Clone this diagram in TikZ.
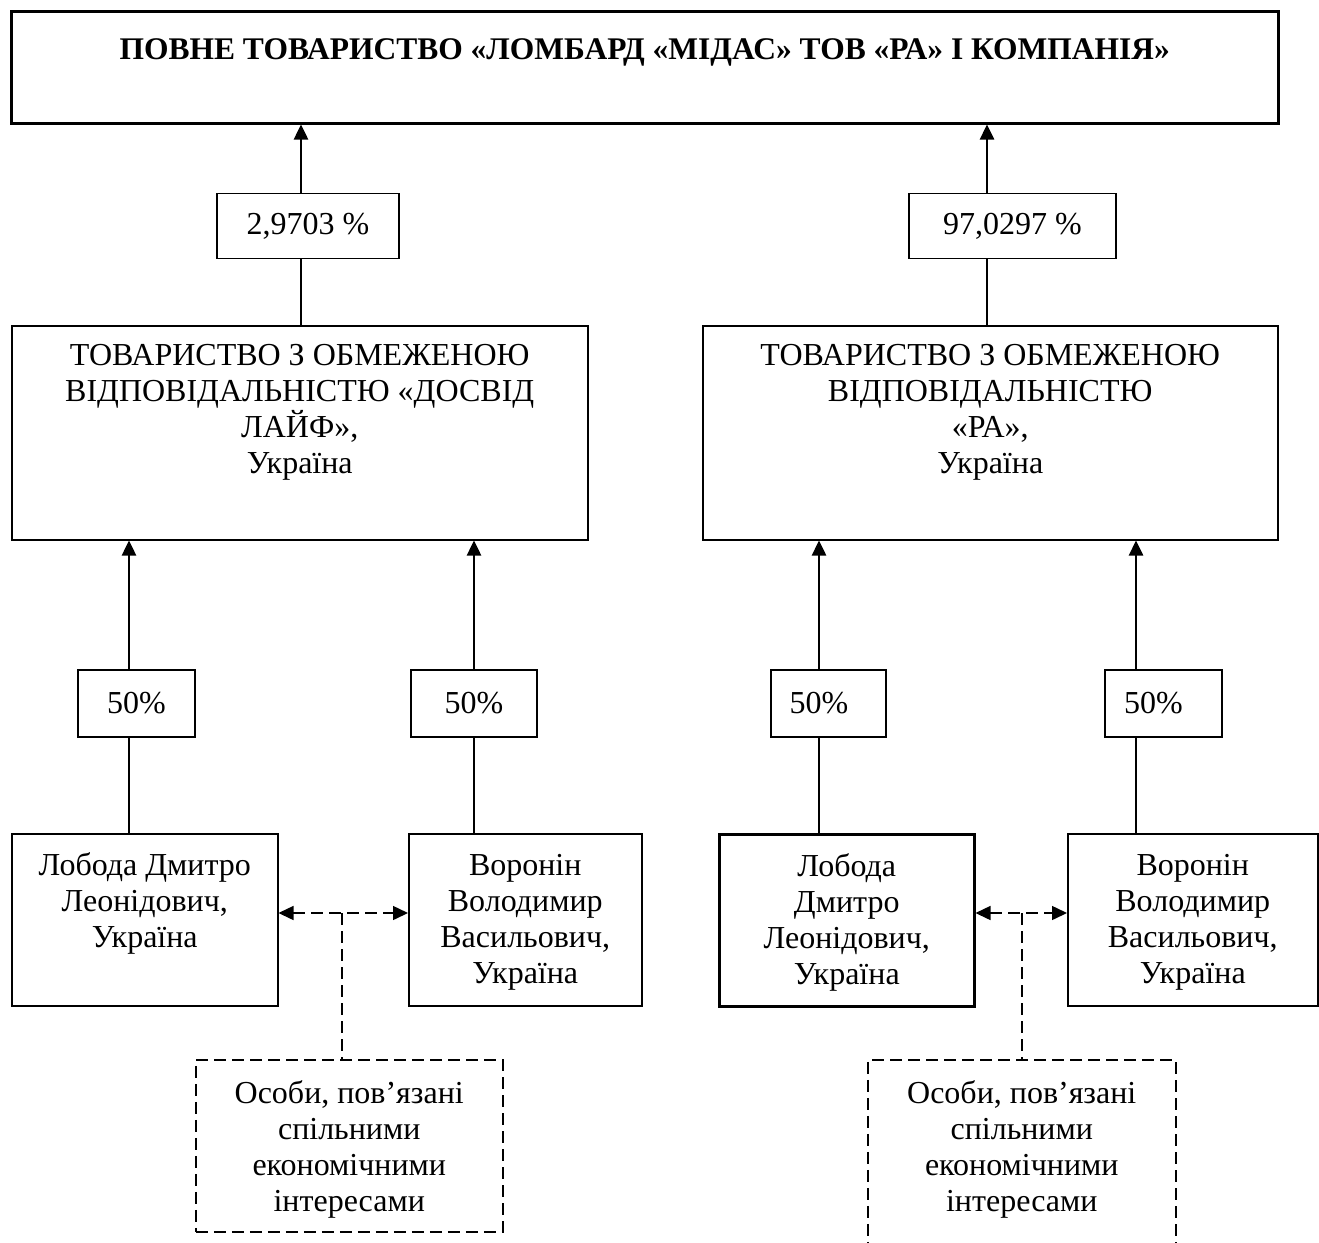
\documentclass[tikz,border=0pt]{standalone}
\usepackage{fontspec}
\setmainfont{Liberation Serif}
\usetikzlibrary{arrows.meta}
\newcommand{\bxt}[4]{\parbox[c][#2][t]{#1}{\centering\rule{0pt}{#3}#4}}
\tikzset{
  bx/.style={draw, line width=1.5pt, inner sep=0pt, anchor=north west, font=\fontsize{32}{36}\selectfont},
  pct/.style={draw, line width=1.5pt, inner sep=0pt, minimum height=65pt, font=\fontsize{32}{36}\selectfont},
  tip/.tip={Triangle[length=15pt,width=14pt]},
  uparr/.style={line width=2.5pt, -tip},
  conn/.style={line width=1.5pt},
  dsh/.style={line width=1.5pt, dash pattern=on 12pt off 6pt},
  dbox/.style={bx, dsh},
}
\begin{document}
\begin{tikzpicture}[x=1pt,y=-1pt]
\clip (0,0) rectangle (1319,1242);
% top
\node[bx, line width=2.5pt, font=\fontsize{31.5}{36}\selectfont\bfseries] (top) at (10,10)
  {\bxt{1267pt}{112pt}{48pt}{ПОВНЕ ТОВАРИСТВО «ЛОМБАРД «МІДАС» ТОВ «РА» І КОМПАНІЯ»}};
% percentage boxes
\node[pct, minimum width=182pt] (p1) at (308,226) {2,9703 \%};
\node[pct, minimum width=207pt] (p2) at (1012.5,226) {97,0297 \%};
% companies
\node[bx] (L) at (11,325)
  {\bxt{576pt}{214pt}{40pt}{ТОВАРИСТВО З ОБМЕЖЕНОЮ\\ВІДПОВІДАЛЬНІСТЮ «ДОСВІД\\ЛАЙФ»,\\Україна}};
\node[bx] (R) at (702,325)
  {\bxt{575pt}{214pt}{40pt}{ТОВАРИСТВО З ОБМЕЖЕНОЮ\\ВІДПОВІДАЛЬНІСТЮ\\«РА»,\\Україна}};
% 50% boxes
\node[pct, minimum width=117pt, minimum height=67pt] (q1) at (136.5,703.5) {50\%};
\node[pct, minimum width=126pt, minimum height=67pt] (q2) at (474,703.5) {50\%};
\node[pct, minimum width=115pt, minimum height=67pt] (q3) at (828.5,703.5) {\hspace*{-19pt}50\%};
\node[pct, minimum width=117pt, minimum height=67pt] (q4) at (1163.5,703.5) {\hspace*{-20pt}50\%};
% persons
\node[bx] (b1) at (11,833)
  {\bxt{266pt}{172pt}{42pt}{Лобода Дмитро\\Леонідович,\\Україна}};
\node[bx] (b2) at (408,833)
  {\bxt{233pt}{172pt}{42pt}{Воронін\\Володимир\\Васильович,\\Україна}};
\node[bx, line width=2.5pt] (b3) at (718,833)
  {\bxt{255pt}{172pt}{42pt}{Лобода\\Дмитро\\Леонідович,\\Україна}};
\node[bx] (b4) at (1067,833)
  {\bxt{250pt}{172pt}{42pt}{Воронін\\Володимир\\Васильович,\\Україна}};
% related persons
\node[dbox] (d1) at (195,1059)
  {\bxt{307pt}{172pt}{44pt}{Особи, пов’язані\\спільними\\економічними\\інтересами}};
\node[dbox] (d2) at (867,1059)
  {\bxt{308pt}{210pt}{44pt}{Особи, пов’язані\\спільними\\економічними\\інтересами}};
% connector x positions
\coordinate (xa) at (301,0);
\coordinate (xb) at (987,0);
\coordinate (xc) at (129,0);
\coordinate (xd) at (474,0);
\coordinate (xe) at (819,0);
\coordinate (xf) at (1136,0);
\draw[uparr] (p1.north -| xa) -- (top.south -| xa);
\draw[conn] (L.north -| xa) -- (p1.south -| xa);
\draw[uparr] (p2.north -| xb) -- (top.south -| xb);
\draw[conn] (R.north -| xb) -- (p2.south -| xb);
\draw[uparr] (q1.north -| xc) -- (L.south -| xc);
\draw[conn] (b1.north -| xc) -- (q1.south -| xc);
\draw[uparr] (q2.north -| xd) -- (L.south -| xd);
\draw[conn] (b2.north -| xd) -- (q2.south -| xd);
\draw[uparr] (q3.north -| xe) -- (R.south -| xe);
\draw[conn] (b3.north -| xe) -- (q3.south -| xe);
\draw[uparr] (q4.north -| xf) -- (R.south -| xf);
\draw[conn] (b4.north -| xf) -- (q4.south -| xf);
% dashed relations
\coordinate (j1) at (342,913);
\coordinate (j2) at (1022,913);
\draw[dsh, tip-tip] (b1.east |- j1) -- (b2.west |- j1);
\draw[dsh] (j1) -- (d1.north -| j1);
\draw[dsh, tip-tip] (b3.east |- j2) -- (b4.west |- j2);
\draw[dsh] (j2) -- (d2.north -| j2);
\end{tikzpicture}
\end{document}
